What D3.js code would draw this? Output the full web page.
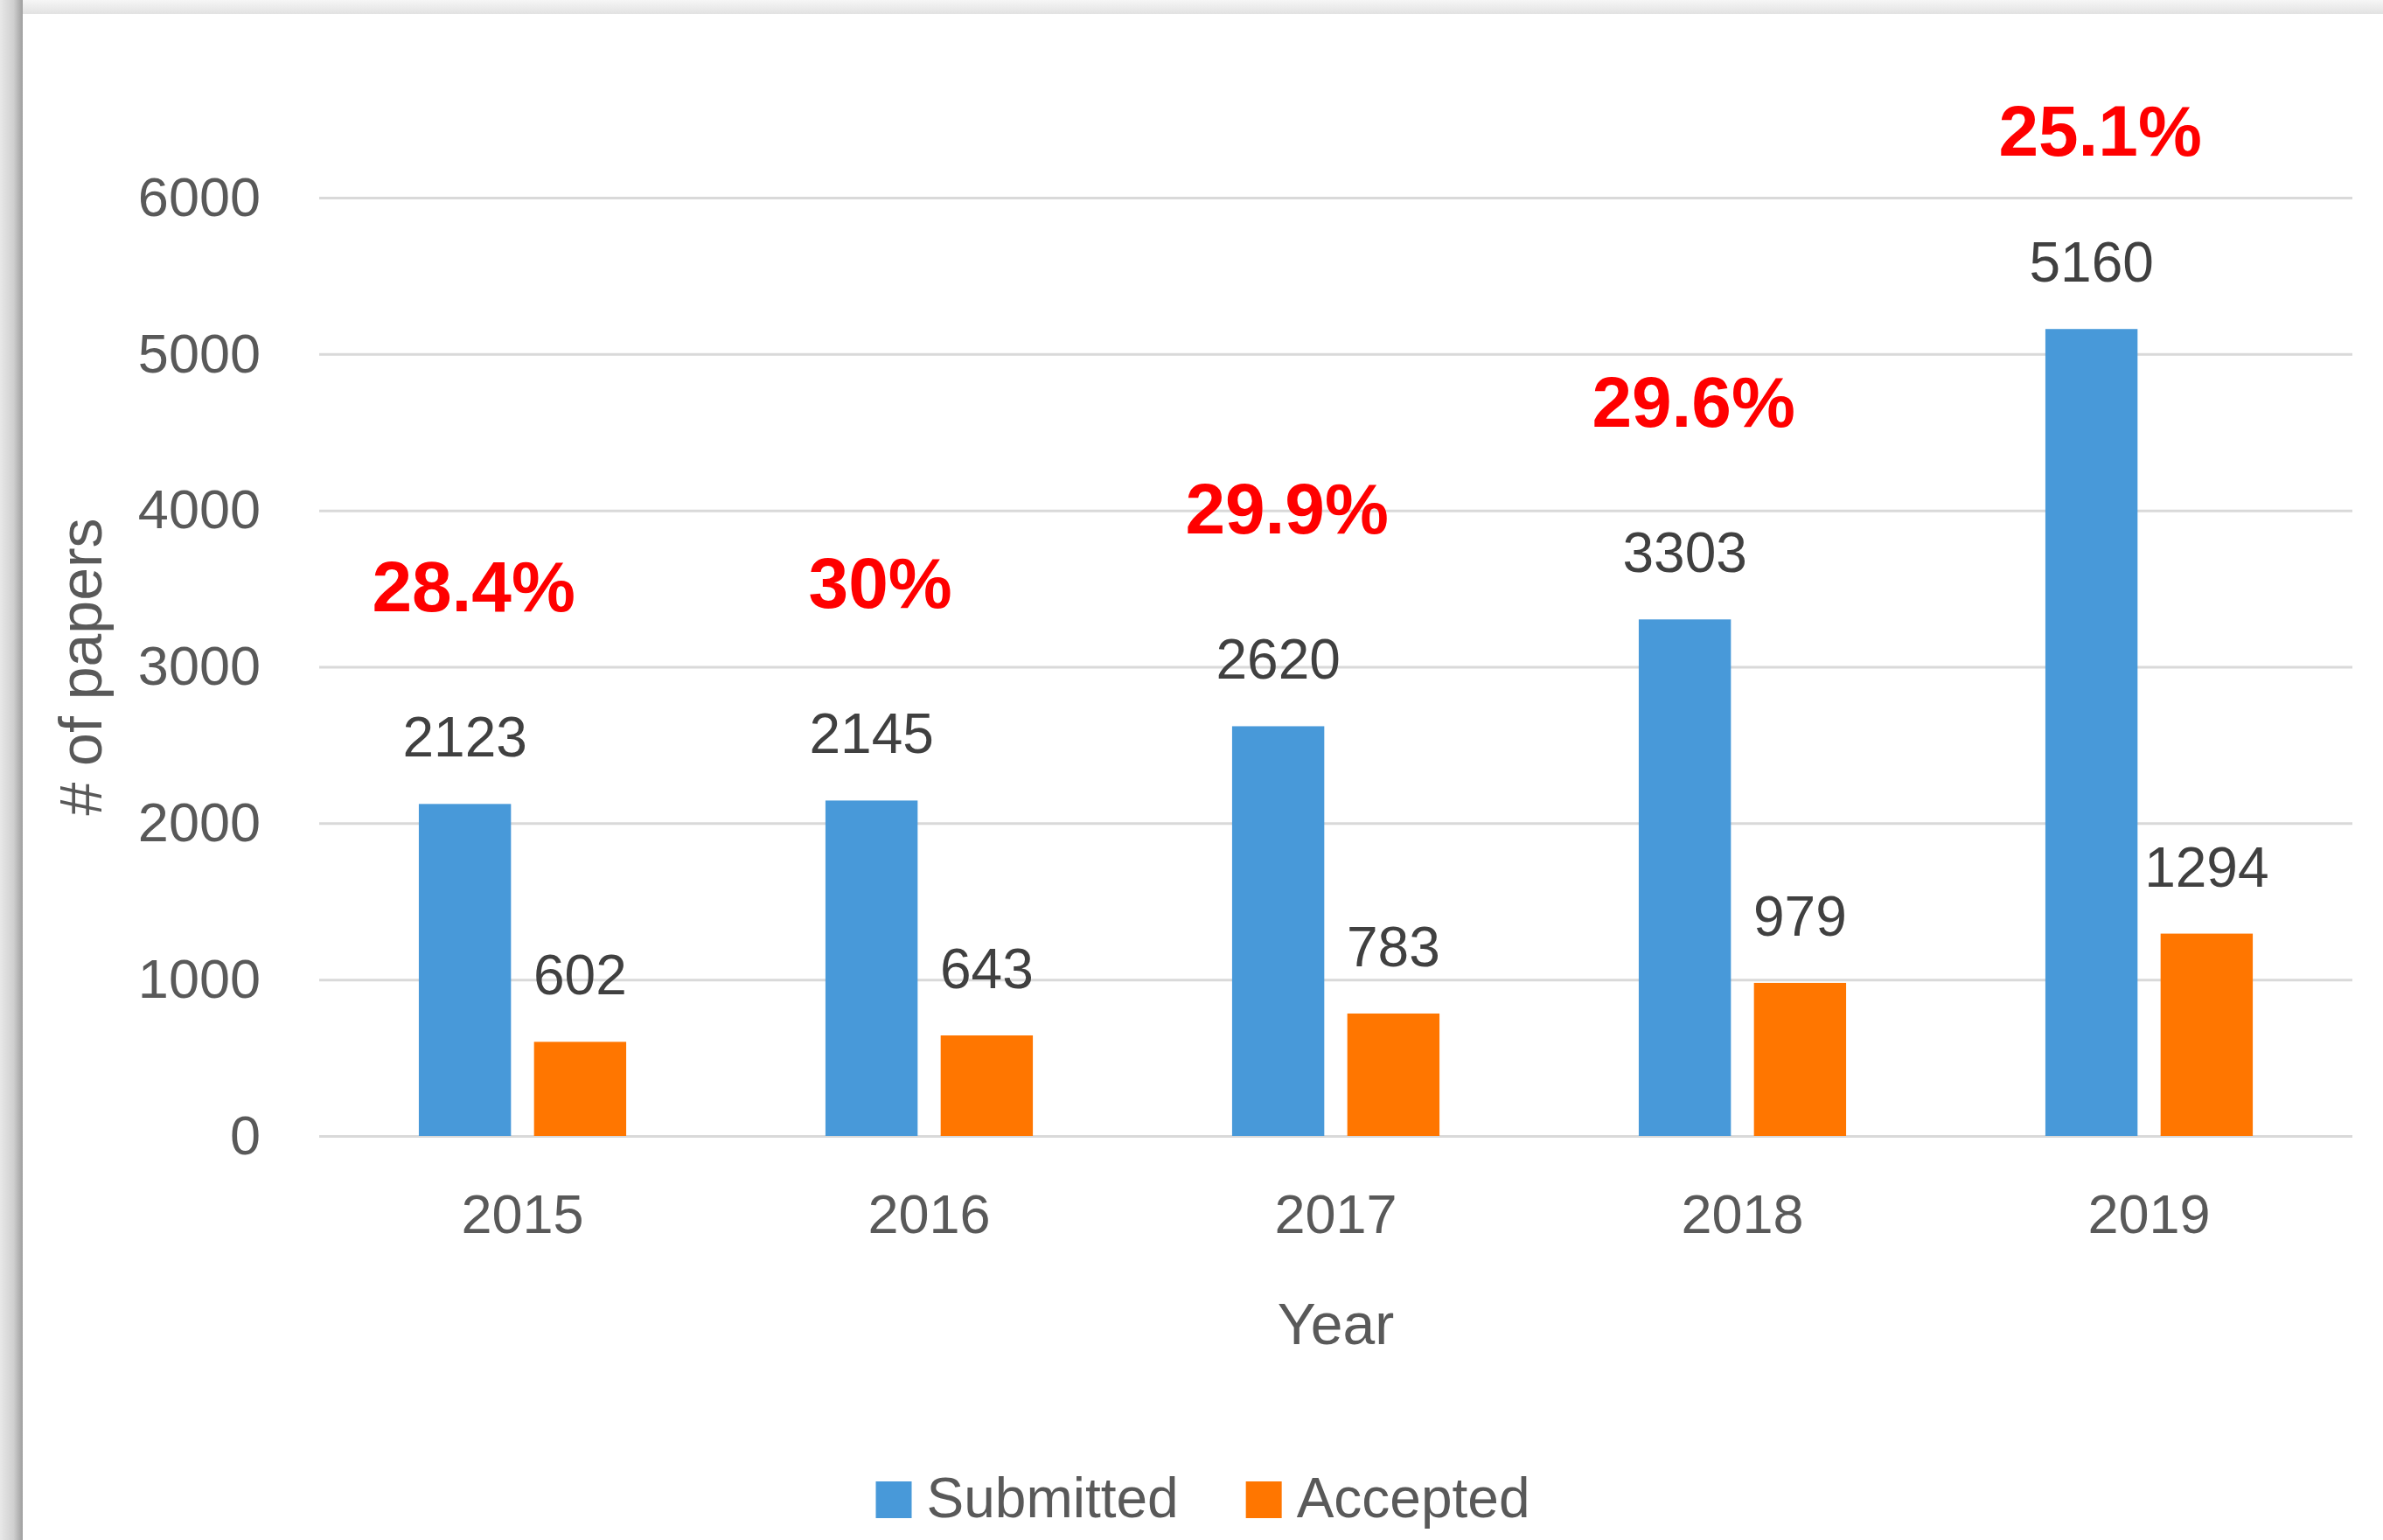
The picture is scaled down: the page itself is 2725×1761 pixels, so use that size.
<!DOCTYPE html>
<html>
<head>
<meta charset="utf-8">
<script src="https://cdn.jsdelivr.net/npm/d3@7"></script>
<style>
  html, body { margin: 0; padding: 0; background: #ffffff; }
  svg { display: block; }
  text { font-family: "Liberation Sans", Arial, sans-serif; }
</style>
</head>
<body>
<script>
// values
const years = ['2015', '2016', '2017', '2018', '2019']
const submitted = [2123, 2145, 2620, 3303, 5160]
const accepted = [602, 643, 783, 979, 1294]
const rates = ['28.4%', '30%', '29.9%', '29.6%', '25.1%']
const seriesNames = ['Submitted', 'Accepted']
const seriesColors = ['#4899d9', '#ff7600']
const yTicks = [0, 1000, 2000, 3000, 4000, 5000, 6000]

const W = 2725
const H = 1761

const card = { left: 26, top: 16 }

const margin = {
  top: 226,
  right: W - 2690,
  bottom: H - 1299,
  left: 365
}

const data = years.map((year, i) => {
  return {
    year: year,
    rate: rates[i],
    values: [
      { key: seriesNames[0], value: submitted[i] },
      { key: seriesNames[1], value: accepted[i] }
    ]
  }
})

const svg = d3.select('body')
  .append('svg')
  .attr('width', W)
  .attr('height', H)

// card background with a soft shadow on top and left
const defs = svg.append('defs')

const leftShade = defs.append('linearGradient')
  .attr('id', 'leftShade')
  .attr('x1', 0).attr('x2', 1).attr('y1', 0).attr('y2', 0)
leftShade.append('stop').attr('offset', 0).attr('stop-color', '#e8e8e8')
leftShade.append('stop').attr('offset', 0.6).attr('stop-color', '#cfcfcf')
leftShade.append('stop').attr('offset', 1).attr('stop-color', '#9e9e9e')

const topShade = defs.append('linearGradient')
  .attr('id', 'topShade')
  .attr('x1', 0).attr('x2', 0).attr('y1', 0).attr('y2', 1)
topShade.append('stop').attr('offset', 0).attr('stop-color', '#f6f6f6')
topShade.append('stop').attr('offset', 1).attr('stop-color', '#e2e2e2')

svg.append('rect')
  .attr('x', 0).attr('y', 0)
  .attr('width', W).attr('height', card.top)
  .style('fill', 'url(#topShade)')

svg.append('rect')
  .attr('x', 0).attr('y', 0)
  .attr('width', card.left).attr('height', H)
  .style('fill', 'url(#leftShade)')

svg.append('rect')
  .attr('x', card.left).attr('y', card.top)
  .attr('width', W - card.left).attr('height', H - card.top)
  .style('fill', '#ffffff')

// scales
const x0 = d3.scaleBand()
  .domain(years)
  .range([margin.left, W - margin.right])
  .paddingInner(0.49)
  .paddingOuter(0.245)

const x1 = d3.scaleBand()
  .domain(seriesNames)
  .range([0, x0.bandwidth()])
  .paddingInner(0.2)

const y = d3.scaleLinear()
  .domain([0, 6000])
  .range([H - margin.bottom, margin.top])

const color = d3.scaleOrdinal()
  .domain(seriesNames)
  .range(seriesColors)

// y axis with gridlines
const yAxis = svg.append('g')
  .attr('class', 'y-axis')
  .attr('transform', `translate(${margin.left}, 0)`)
  .call(d3.axisLeft(y)
    .tickValues(yTicks)
    .tickSizeInner(-(W - margin.left - margin.right))
    .tickSizeOuter(0)
    .tickPadding(67)
    .tickFormat(d3.format('d')))

yAxis.select('.domain').remove()
yAxis.selectAll('line')
  .style('stroke', '#d9d9d9')
  .style('stroke-width', 3)
yAxis.selectAll('text')
  .style('font-size', '63px')
  .style('fill', '#595959')

// x axis labels
const xAxis = svg.append('g')
  .attr('class', 'x-axis')
  .attr('transform', `translate(0, ${H - margin.bottom})`)
  .call(d3.axisBottom(x0).tickSize(0).tickPadding(66))

xAxis.select('.domain').remove()
xAxis.selectAll('text')
  .style('font-size', '63px')
  .style('fill', '#595959')

// bars
const groups = svg.append('g')
  .selectAll('g')
  .data(data)
  .enter()
  .append('g')
  .attr('transform', d => `translate(${x0(d.year)}, 0)`)

groups.selectAll('rect')
  .data(d => d.values)
  .enter()
  .append('rect')
  .attr('x', d => x1(d.key))
  .attr('y', d => y(d.value))
  .attr('width', x1.bandwidth())
  .attr('height', d => y(0) - y(d.value))
  .style('fill', d => color(d.key))

// value labels
groups.selectAll('text.value')
  .data(d => d.values)
  .enter()
  .append('text')
  .attr('class', 'value')
  .attr('text-anchor', 'middle')
  .attr('x', d => x1(d.key) + x1.bandwidth() / 2)
  .attr('y', d => y(d.value) - 54)
  .style('font-size', '64px')
  .style('fill', '#404040')
  .text(d => d.value)

// acceptance rate annotations, kept below the top edge of the plot
groups.append('text')
  .attr('class', 'rate')
  .attr('text-anchor', 'middle')
  .attr('x', x1(seriesNames[0]) + x1.bandwidth() / 2 + 10)
  .attr('y', d => Math.max(y(d.values[0].value) - 220, margin.top - 48))
  .style('font-size', '82px')
  .style('font-weight', 'bold')
  .style('fill', '#ff0000')
  .text(d => d.rate)

// axis titles
svg.append('text')
  .attr('text-anchor', 'middle')
  .attr('x', (margin.left + W - margin.right) / 2)
  .attr('y', 1537)
  .style('font-size', '66px')
  .style('fill', '#595959')
  .text('Year')

svg.append('text')
  .attr('text-anchor', 'middle')
  .attr('transform', `translate(116, ${(y(0) + y(6000)) / 2}) rotate(-90)`)
  .style('font-size', '68px')
  .style('fill', '#595959')
  .text('# of papers')

// legend, centred on the card
const legend = svg.append('g').attr('class', 'legend')

const swatch = 41
let cursor = 0
seriesNames.forEach((name, i) => {
  const item = legend.append('g').attr('transform', `translate(${cursor}, 0)`)
  item.append('rect')
    .attr('x', 0)
    .attr('y', 0)
    .attr('width', swatch)
    .attr('height', 42)
    .style('fill', color(name))
  const label = item.append('text')
    .attr('x', swatch + 17)
    .attr('y', 41)
    .style('font-size', '64px')
    .style('fill', '#595959')
    .text(name)
  cursor += swatch + 17 + label.node().getComputedTextLength() + 77
})
cursor -= 77

legend.attr('transform', `translate(${(card.left + W) / 2 - cursor / 2}, 1694)`)
</script>
</body>
</html>
